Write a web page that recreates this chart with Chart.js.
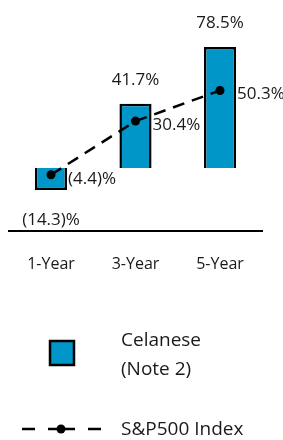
<!DOCTYPE html>
<html><head><meta charset="utf-8">
<script src="https://cdn.jsdelivr.net/npm/chart.js@4/dist/chart.umd.min.js"></script>
<style>html,body{margin:0;padding:0;background:#fff;}#wrap{width:283px;height:440px;position:relative;}</style>
</head><body><div id="wrap"><canvas id="c" width="283" height="440"></canvas></div>
<script>
const categories = ['1-Year', '3-Year', '5-Year'];
const celaneseValues = [-14.3, 41.7, 78.5];
const sp500Values = [-4.4, 30.4, 50.3];
const celaneseLabels = ['(14.3)%', '41.7%', '78.5%'];
const sp500Labels = ['(4.4)%', '30.4%', '50.3%'];
const legendNames = [['Celanese', '(Note 2)'], ['S&P500 Index']];

const FONT = '"Open Sans", sans-serif';
const BLUE = '#0096c8';
const TEXT = '#1a1a1a';

const labelPlugin = {
  id: 'labels',
  afterDatasetsDraw(chart) {
    const ctx = chart.ctx;
    ctx.save();
    ctx.font = '17px ' + FONT;
    ctx.fillStyle = TEXT;
    ctx.textBaseline = 'middle';
    const barMeta = chart.getDatasetMeta(0);
    barMeta.data.forEach((el, i) => {
      const v = celaneseValues[i];
      ctx.textAlign = 'center';
      const y = v >= 0 ? el.y - 24 : el.y + 30;
      ctx.fillText(celaneseLabels[i], el.x, y);
    });
    const lineMeta = chart.getDatasetMeta(1);
    lineMeta.data.forEach((el, i) => {
      ctx.textAlign = 'left';
      ctx.fillText(sp500Labels[i], el.x + 17, el.y + 4);
    });
    // legend
    const ds0 = chart.data.datasets[0], ds1 = chart.data.datasets[1];
    ctx.fillStyle = ds0.backgroundColor;
    ctx.fillRect(50, 341, 24, 24);
    ctx.strokeStyle = '#000';
    ctx.lineWidth = 2.5;
    ctx.strokeRect(50, 341, 24, 24);
    ctx.font = '19px ' + FONT;
    ctx.fillStyle = TEXT;
    ctx.textAlign = 'left';
    ctx.fillText(legendNames[0][0], 121, 341);
    ctx.fillText(legendNames[0][1], 121, 370);
    ctx.fillText(legendNames[1][0], 121, 430);
    ctx.strokeStyle = ds1.borderColor;
    ctx.lineWidth = 2.5;
    ctx.beginPath();
    ctx.moveTo(22, 429); ctx.lineTo(35, 429);
    ctx.moveTo(48, 429); ctx.lineTo(75, 429);
    ctx.moveTo(88, 429); ctx.lineTo(101, 429);
    ctx.stroke();
    ctx.fillStyle = '#000';
    ctx.beginPath();
    ctx.arc(61, 429, 4.5, 0, Math.PI * 2);
    ctx.fill();
    ctx.restore();
  }
};

new Chart(document.getElementById('c'), {
  type: 'bar',
  data: {
    labels: categories,
    datasets: [
      {
        type: 'bar',
        label: 'Celanese (Note 2)',
        data: celaneseValues,
        backgroundColor: BLUE,
        borderColor: '#000',
        borderWidth: 2.5,
        barPercentage: 0.38,
        categoryPercentage: 1,
        order: 2
      },
      {
        type: 'line',
        label: 'S&P500 Index',
        data: sp500Values,
        borderColor: '#000',
        backgroundColor: '#000',
        borderWidth: 2.5,
        borderDash: [12, 8],
        pointRadius: 4.5,
        pointBackgroundColor: '#000',
        pointBorderWidth: 0,
        fill: false,
        clip: false,
        order: 1
      }
    ]
  },
  options: {
    responsive: false,
    animation: false,
    events: [],
    layout: { autoPadding: false, padding: { left: 8.75, right: 20.75, top: 0, bottom: 169 } },
    plugins: { legend: { display: false }, tooltip: { enabled: false } },
    scales: {
      x: {
        grid: { display: false, drawTicks: false },
        border: { display: true, color: '#000', width: 2 },
        ticks: { color: TEXT, font: { family: FONT, size: 16 }, padding: 24 },
        afterFit: s => { s.height = 40; }
      },
      y: { display: false, min: -40.9, max: 109 }
    }
  },
  plugins: [labelPlugin]
});
</script></body></html>
